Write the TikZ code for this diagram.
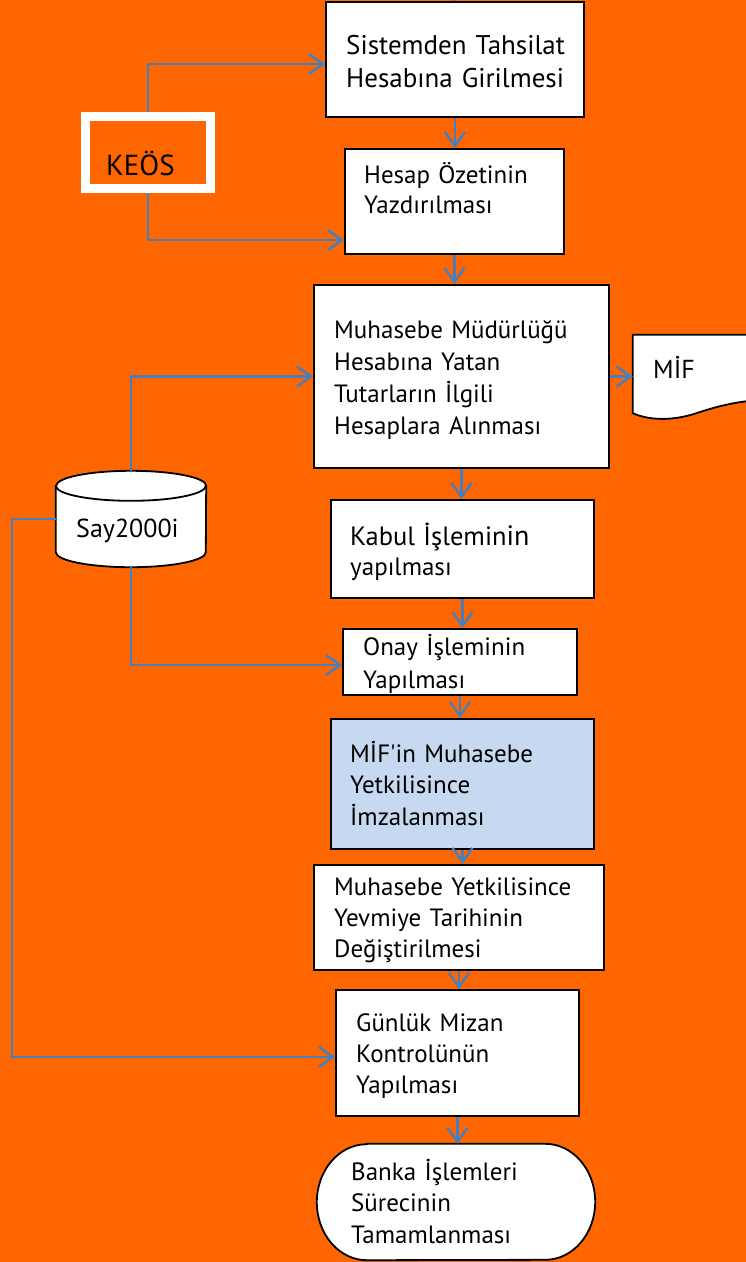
\documentclass[tikz,border=0pt]{standalone}
\usepackage{fontspec}
\setmainfont{PT Sans}[Ligatures={NoCommon}]
\usetikzlibrary{arrows.meta}
\definecolor{bgorange}{HTML}{FF6600}
\definecolor{connblue}{RGB}{74,126,187}
\definecolor{lightblue}{HTML}{C6D9F1}
\tikzset{
  box/.style={draw=black, line width=1.8pt, fill=white, inner sep=0pt},
  ghost/.style={inner sep=0pt},
  shapeline/.style={draw=black, line width=1.8pt, fill=white},
  txt/.style={inner sep=0pt, anchor=base west, align=left, text width=#1},
  ls/.style={font=\fontsize{25}{#1}\selectfont},
  conn/.style={draw=connblue, line width=2.5pt, -{Straight Barb[length=14pt,width=20pt]}},
  plain/.style={draw=connblue, line width=2.5pt},
}
\begin{document}
\begin{tikzpicture}[x=1pt,y=1pt]
\useasboundingbox (0,0) rectangle (746,-1262);
\clip (0,0) rectangle (746,-1262);
\fill[bgorange] (0,0) rectangle (746,-1262);

% process boxes
\node[box, minimum width=258pt, minimum height=115pt] (b1) at (455,-59.5) {};
\node[box, minimum width=219pt, minimum height=105pt] (b2) at (454.5,-201.5) {};
\node[box, minimum width=295pt, minimum height=183pt] (b3) at (461.5,-376.5) {};
\node[box, minimum width=263pt, minimum height=98pt] (b4) at (462.5,-549) {};
\node[box, minimum width=234pt, minimum height=66pt] (b5) at (460,-662) {};
\node[box, fill=lightblue, minimum width=263pt, minimum height=130pt] (b6) at (462.5,-784) {};
\node[box, minimum width=290pt, minimum height=105pt] (b7) at (459,-917.5) {};
\node[box, minimum width=243pt, minimum height=126pt] (b8) at (457.5,-1053) {};
\node[ghost, minimum width=278pt, minimum height=116pt] (b9) at (456,-1202) {};
\draw[shapeline] ([xshift=50pt]b9.north west) -- ([xshift=-50pt]b9.north east)
  arc[start angle=90, end angle=-90, x radius=50pt, y radius=58pt]
  -- ([xshift=50pt]b9.south west)
  arc[start angle=270, end angle=90, x radius=50pt, y radius=58pt] -- cycle;

% KEOS box
\node[draw=white, line width=9pt, fill=bgorange, inner sep=0pt, outer sep=4.5pt,
      minimum width=125pt, minimum height=72pt] (keos) at (148,-152.5) {};

% Say2000i database
\node[ghost, minimum width=150pt, minimum height=96pt] (say) at (131,-519) {};
\draw[shapeline] ([yshift=-15pt]say.north west) -- ([yshift=15pt]say.south west)
  arc[start angle=180, end angle=360, x radius=75pt, y radius=15pt]
  -- ([yshift=-15pt]say.north east)
  arc[start angle=0, end angle=180, x radius=75pt, y radius=15pt] -- cycle;
\draw[draw=black, line width=1.8pt] ([yshift=-15pt]say.north west)
  arc[start angle=180, end angle=360, x radius=75pt, y radius=15pt];

% MiF document
\node[ghost, minimum width=157pt, minimum height=78pt] (mif) at (711.5,-374) {};
\draw[shapeline] (mif.north east) -- (mif.north west) -- (mif.south west)
  .. controls (648,-420) and (672,-422) .. (700,-412)
  .. controls (725,-404) and (750,-398) .. (790,-400) -- cycle;

% texts
\node[txt=240pt, font=\fontsize{27}{33}\selectfont] (t1) at (346,-54) {Sistemden Tahsilat\\Hesabına Girilmesi};
\node[txt=190pt, ls=30] (t2) at (364,-183) {Hesap Özetinin\\Yazdırılması};
\node[txt=270pt, ls=32] (t3) at (334,-338) {Muhasebe Müdürlüğü\\Hesabına Yatan\\Tutarların İlgili\\Hesaplara Alınması};
\node[txt=240pt, ls=30] (t4) at (350,-545) {{\fontsize{26.5}{30}\selectfont Kabul İşlemin}{\fontsize{28}{30}\selectfont in}\\yapılması};
\node[txt=210pt, ls=33] (t5) at (363,-655) {Onay İşleminin\\Yapılması};
\node[txt=240pt, ls=31.5] (t6) at (350,-762) {MİF\textquotesingle in Muhasebe\\Yetkilisince\\İmzalanması};
\node[txt=270pt, ls=31] (t7) at (334,-895) {Muhasebe Yetkilisince\\Yevmiye Tarihinin\\Değiştirilmesi};
\node[txt=220pt, ls=31] (t8) at (356,-1031) {Günlük Mizan\\Kontrolünün\\Yapılması};
\node[txt=230pt, ls=31.5] (t9) at (351,-1180) {Banka İşlemleri\\Sürecinin\\Tamamlanması};
\node[txt=120pt, font=\fontsize{29}{32}\selectfont] (tk) at (106,-175) {KEÖS};
\node[txt=130pt, font=\fontsize{26}{30}\selectfont] (ts) at (76,-537) {Say2000i};
\node[txt=90pt, font=\fontsize{26}{30}\selectfont] (tm) at (653,-378) {MİF};

% connectors
\coordinate (topin) at (455,0);
\draw[plain] (topin) -- (b1.north);
\draw[conn] (b1.south) -- (b1.south |- b2.north);
\draw[conn] (b2.south) -- (b2.south |- b3.north);
\draw[conn] (b3.south) -- (b3.south |- b4.north);
\draw[conn] (b4.south) -- (b4.south |- b5.north);
\draw[conn] (b5.south) -- (b5.south |- b6.north);
\draw[conn] (b6.south) -- (b6.south |- b7.north);
\draw[conn] (b7.south) -- (b7.south |- b8.north);
\draw[conn] (b8.south) -- (b8.south |- b9.north);
\draw[conn] (keos.north) |- ([yshift=-4.5pt]b1.west);
\draw[conn] (keos.south) |- ([yshift=-38.5pt]b2.west);
\draw[conn] (say.north) |- (b3.west);
\draw[conn] (say.south) |- ([yshift=-3pt]b5.west);
\draw[conn] (say.west) -- ++(-44pt,0) |- ([yshift=-4pt]b8.west);
\draw[conn] (b3.east) -- (b3.east -| mif.west);
\end{tikzpicture}
\end{document}
